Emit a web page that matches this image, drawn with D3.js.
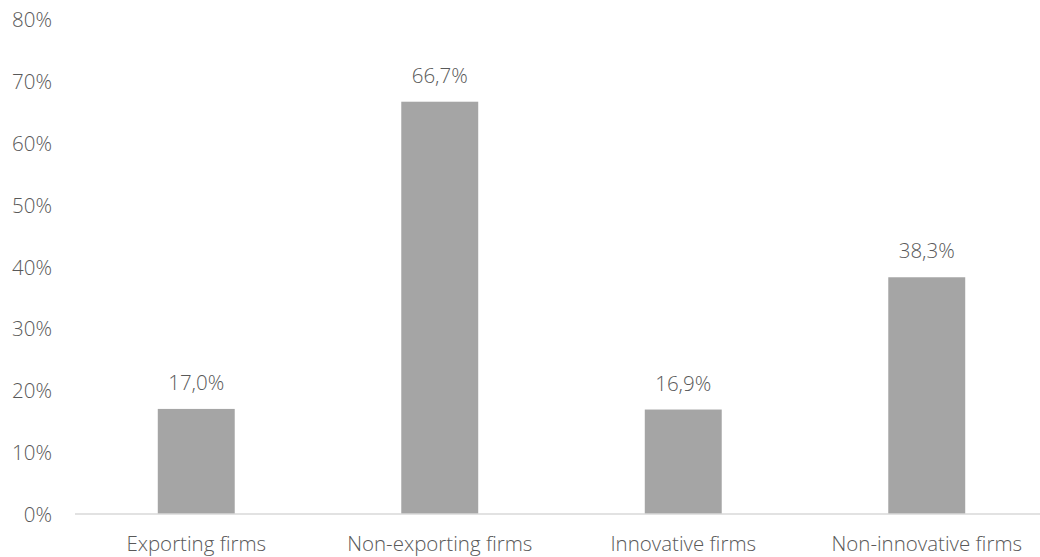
<!DOCTYPE html>
<html>
<head>
<meta charset="utf-8">
<script src="https://cdn.jsdelivr.net/npm/d3@7/dist/d3.min.js"></script>
<style>
  html, body { margin: 0; padding: 0; background: #fff; }
  svg { display: block; }
  text { font-family: "Open Sans", "Noto Sans", "DejaVu Sans", sans-serif; font-weight: 300; fill: #595959; }
</style>
</head>
<body>
<svg id="chart" width="1040" height="557"></svg>
<script>
// Share of firms by group
const categories = ["Exporting firms", "Non-exporting firms", "Innovative firms", "Non-innovative firms"];
const values = [17.0, 66.7, 16.9, 38.3];
const valueLabels = ["17,0%", "66,7%", "16,9%", "38,3%"];
const yTicks = [0, 10, 20, 30, 40, 50, 60, 70, 80];

const svg = d3.select("#chart");
const baseY = 514, topY = 19.5;
const fontSize = 20.5;

const x = d3.scaleBand()
  .domain(categories)
  .range([74.5, 1048.5])
  .paddingInner(0.684)
  .paddingOuter(0.342);

const y = d3.scaleLinear().domain([0, 80]).range([baseY, topY]);

// y-axis tick labels (no axis line, no gridlines)
const yAxis = d3.axisLeft(y)
  .tickValues(yTicks)
  .tickFormat(d => d + "%")
  .tickSize(0)
  .tickPadding(0);
const yg = svg.append("g").attr("transform", "translate(52,0)").call(yAxis);
yg.attr("font-family", null).attr("font-size", null);
yg.select(".domain").remove();
yg.selectAll("text")
  .attr("font-size", fontSize)
  .attr("fill", null)
  .attr("dy", "0.36em");

// bars
svg.append("g").selectAll("rect")
  .data(categories)
  .join("rect")
  .attr("x", d => x(d))
  .attr("width", x.bandwidth())
  .attr("y", (d, i) => y(values[i]))
  .attr("height", (d, i) => baseY - y(values[i]))
  .attr("fill", "#a5a5a5");

// value labels
svg.append("g").selectAll("text")
  .data(categories)
  .join("text")
  .attr("x", d => x(d) + x.bandwidth() / 2)
  .attr("y", (d, i) => y(values[i]) - 19)
  .attr("text-anchor", "middle")
  .attr("font-size", fontSize)
  .text((d, i) => valueLabels[i]);

// x-axis baseline and category labels
const xAxis = d3.axisBottom(x).tickSize(0).tickPadding(0);
const xg = svg.append("g").attr("transform", `translate(0,${baseY})`).call(xAxis);
xg.attr("font-family", null).attr("font-size", null);
xg.select(".domain").attr("stroke", "#d9d9d9").attr("stroke-width", 1.3)
  .attr("d", "M75,0H1048");
xg.selectAll("text")
  .attr("font-size", fontSize)
  .attr("fill", null)
  .attr("dy", null)
  .attr("y", 36.5);
</script>
</body>
</html>
